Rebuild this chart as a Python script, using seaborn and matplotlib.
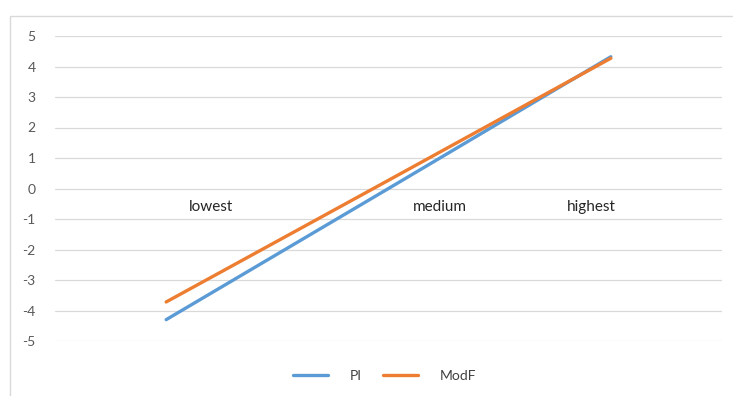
import pandas as pd
import numpy as np
import matplotlib.pyplot as plt
import seaborn as sns
from matplotlib.patches import Rectangle

categories = ['lowest', 'medium', 'highest']
pi_values = [-4.3, 0.0, 4.32]
modf_values = [-3.72, 0.27, 4.27]
series_names = ['PI', 'ModF']
y_ticks = [5, 4, 3, 2, 1, 0, -1, -2, -3, -4, -5]

df = pd.DataFrame({
    'pos': list(range(len(categories))) * 2,
    'value': pi_values + modf_values,
    'series': [series_names[0]] * 3 + [series_names[1]] * 3,
})

sns.set_style('white')
plt.rcParams['font.family'] = ['Lato', 'DejaVu Sans']
plt.rcParams['axes.unicode_minus'] = False

fig = plt.figure(figsize=(7.33, 3.96), dpi=100)
ax = fig.add_axes([55 / 733, 1 - 341 / 396, 667 / 733, 305 / 396])

palette = {'PI': '#5B9BD5', 'ModF': '#ED7D31'}
sns.lineplot(data=df, x='pos', y='value', hue='series', palette=palette,
             linewidth=2.4, sort=False, ax=ax, legend=False)

ax.set_xlim(-0.5, 2.5)
ax.set_ylim(-5, 5)
ax.set_yticks(y_ticks)
ax.set_xticks([])
ax.yaxis.grid(True, color='#d9d9d9', linewidth=0.9)
ax.set_axisbelow(True)
for s in ax.spines.values():
    s.set_visible(False)
ax.tick_params(axis='y', length=0, pad=14, labelsize=10, labelcolor='#595959')
ax.set_xlabel('')
ax.set_ylabel('')

# category labels sit just under the zero line, like the Excel original
label_pos = [0.2, 1.23, 1.91]
for lbl, xp in zip(categories, label_pos):
    ax.text(xp, -0.6, lbl, ha='center', va='center', fontsize=11, color='#262626')

handles = [plt.Line2D([], [], color=palette[n], linewidth=2.4) for n in series_names]
fig.legend(handles, series_names, loc='center', bbox_to_anchor=(0.525, 0.05),
           ncol=2, frameon=False, fontsize=10, handlelength=2.5, handletextpad=1.6,
           columnspacing=1.5, labelcolor='#404040')

fig.patches.append(Rectangle((10 / 733, -0.01), 0.99, 1 - 16 / 396 + 0.01,
                             transform=fig.transFigure, fill=False,
                             edgecolor='#d9d9d9', linewidth=1))

fig.savefig('out.png', dpi=100)
